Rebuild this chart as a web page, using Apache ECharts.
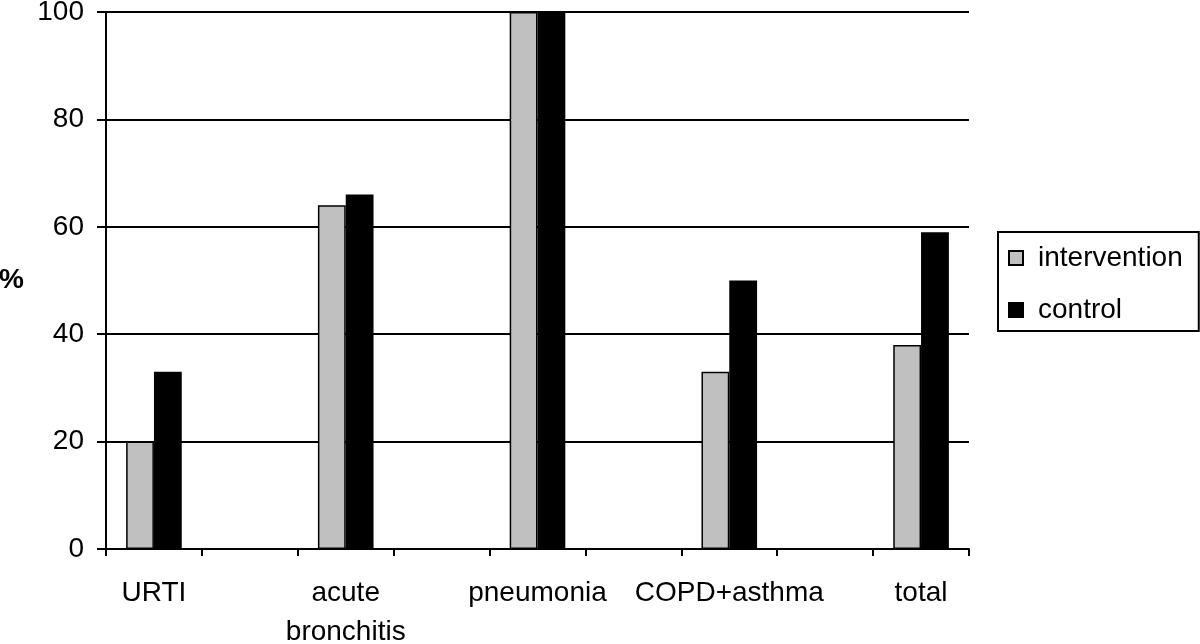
<!DOCTYPE html>
<html>
<head>
<meta charset="utf-8">
<script src="https://cdn.jsdelivr.net/npm/echarts@6/dist/echarts.min.js"></script>
<style>html,body{margin:0;padding:0;background:#fff}#c{width:1200px;height:644px}</style>
</head>
<body>
<div id="c"></div>
<script>
const categories = ['URTI', '', 'acute\nbronchitis', '', 'pneumonia', '', 'COPD+asthma', '', 'total'];
const intervention = [20, null, 64, null, 100, null, 33, null, 38];
const control = [33, null, 66, null, 100, null, 50, null, 59];
const yTicks = [0, 20, 40, 60, 80, 100];

const FONT = '"Liberation Sans", Arial, sans-serif';
const chart = echarts.init(document.getElementById('c'), null, {renderer: 'canvas'});
chart.setOption({
  animation: false,
  backgroundColor: '#fff',
  grid: {left: 106, right: 231, top: 12, bottom: 95, containLabel: false, outerBoundsMode: 'none'},
  legend: {
    orient: 'vertical',
    left: 998, top: 232,
    padding: [8, 16, 3, 10],
    itemGap: 16,
    itemWidth: 14, itemHeight: 14,
    borderColor: '#000', borderWidth: 2,
    icon: 'rect',
    textStyle: {fontFamily: FONT, fontSize: 28, color: '#000', lineHeight: 36, padding: [0, 0, 0, 10]},
    data: ['intervention', 'control']
  },
  xAxis: {
    type: 'category',
    data: categories,
    axisLine: {lineStyle: {color: '#000', width: 2}},
    axisTick: {show: true, length: 7, lineStyle: {color: '#000', width: 2}},
    axisLabel: {interval: 0, margin: 25, fontFamily: FONT, fontSize: 28, color: '#000', lineHeight: 39}
  },
  yAxis: {
    type: 'value',
    min: 0, max: 100, interval: 20,
    name: '%',
    nameLocation: 'middle',
    nameRotate: 0,
    nameGap: 82,
    nameTextStyle: {fontFamily: FONT, fontSize: 28, fontWeight: 'bold', color: '#000'},
    axisLine: {show: true, lineStyle: {color: '#000', width: 2}},
    axisTick: {show: true, length: 9, lineStyle: {color: '#000', width: 2}},
    axisLabel: {margin: 22, fontFamily: FONT, fontSize: 28, color: '#000',
      formatter: v => yTicks.includes(v) ? String(v) : ''},
    splitLine: {show: true, lineStyle: {color: '#000', width: 2}}
  },
  series: [
    {name: 'intervention', type: 'bar', data: intervention, barGap: '0%', barCategoryGap: '42%',
     itemStyle: {color: '#c0c0c0', borderColor: '#000', borderWidth: 1.5}},
    {name: 'control', type: 'bar', data: control, barGap: '0%', barCategoryGap: '42%',
     itemStyle: {color: '#000', borderColor: '#000', borderWidth: 1.5}}
  ]
});
</script>
</body>
</html>
